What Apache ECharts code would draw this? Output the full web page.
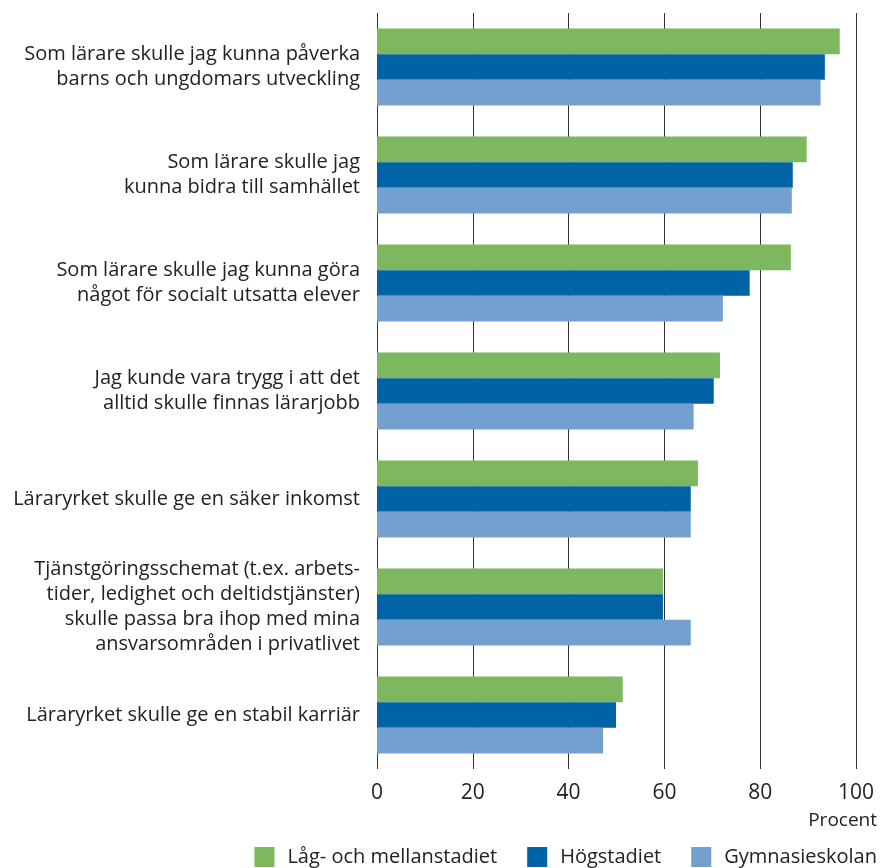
<!DOCTYPE html>
<html><head><meta charset="utf-8">
<script src="https://cdn.jsdelivr.net/npm/echarts@6/dist/echarts.min.js"></script>
<style>html,body{margin:0;padding:0;background:#fff}#c{width:880px;height:868px}</style>
</head><body><div id="c"></div>
<script>
const categories = [
  "Som lärare skulle jag kunna påverka\nbarns och ungdomars utveckling",
  "Som lärare skulle jag\nkunna bidra till samhället",
  "Som lärare skulle jag kunna göra\nnågot för socialt utsatta elever",
  "Jag kunde vara trygg i att det\nalltid skulle finnas lärarjobb",
  "Läraryrket skulle ge en säker inkomst",
  "Tjänstgöringsschemat (t.ex. arbets-\ntider, ledighet och deltidstjänster)\nskulle passa bra ihop med mina\nansvarsområden i privatlivet",
  "Läraryrket skulle ge en stabil karriär"
];
const seriesNames = ["Låg- och mellanstadiet", "Högstadiet", "Gymnasieskolan"];
const lagMellan = [96.6, 89.7, 86.4, 71.6, 67.0, 59.7, 51.3];
const hogstadiet = [93.5, 86.8, 77.8, 70.3, 65.5, 59.7, 49.9];
const gymnasie = [92.6, 86.6, 72.2, 66.1, 65.5, 65.5, 47.2];
const xTicks = [0, 20, 40, 60, 80, 100];
const unitLabel = "Procent";

const colors = ["#7db85f", "#0063a6", "#74a0d0"];
const font = "Open Sans";
const chart = echarts.init(document.getElementById('c'), null, {renderer: 'canvas'});
const dataSets = [lagMellan, hogstadiet, gymnasie];
chart.setOption({
  animation: false,
  textStyle: {fontFamily: font},
  grid: {left: 377, right: 24, top: 13, bottom: 99, containLabel: false},
  legend: {
    right: 3, top: 847, itemWidth: 20, itemHeight: 20, itemGap: 30,
    icon: 'rect', padding: 0,
    textStyle: {fontSize: 20, color: '#222', fontFamily: font, padding: [0, 0, 0, 8]},
    data: seriesNames
  },
  graphic: [{
    type: 'text', right: 3, top: 811,
    style: {text: unitLabel, fontSize: 19, fill: '#222', fontFamily: font}
  }],
  xAxis: {
    type: 'value', min: xTicks[0], max: xTicks[xTicks.length - 1], interval: 20,
    axisLine: {show: false}, axisTick: {show: false},
    axisLabel: {fontSize: 21, color: '#222', margin: 14, fontFamily: font},
    splitLine: {show: true, lineStyle: {color: '#333', width: 1}}
  },
  yAxis: {
    type: 'category', inverse: true, data: categories,
    axisLine: {show: false}, axisTick: {show: false},
    axisLabel: {fontSize: 20, color: '#222', margin: 17, lineHeight: 25, align: 'right', fontFamily: font}
  },
  series: seriesNames.map((n, i) => ({
    name: n, type: 'bar', data: dataSets[i],
    itemStyle: {color: colors[i]},
    barGap: '0%', barCategoryGap: '28.7%'
  }))
});
</script></body></html>
